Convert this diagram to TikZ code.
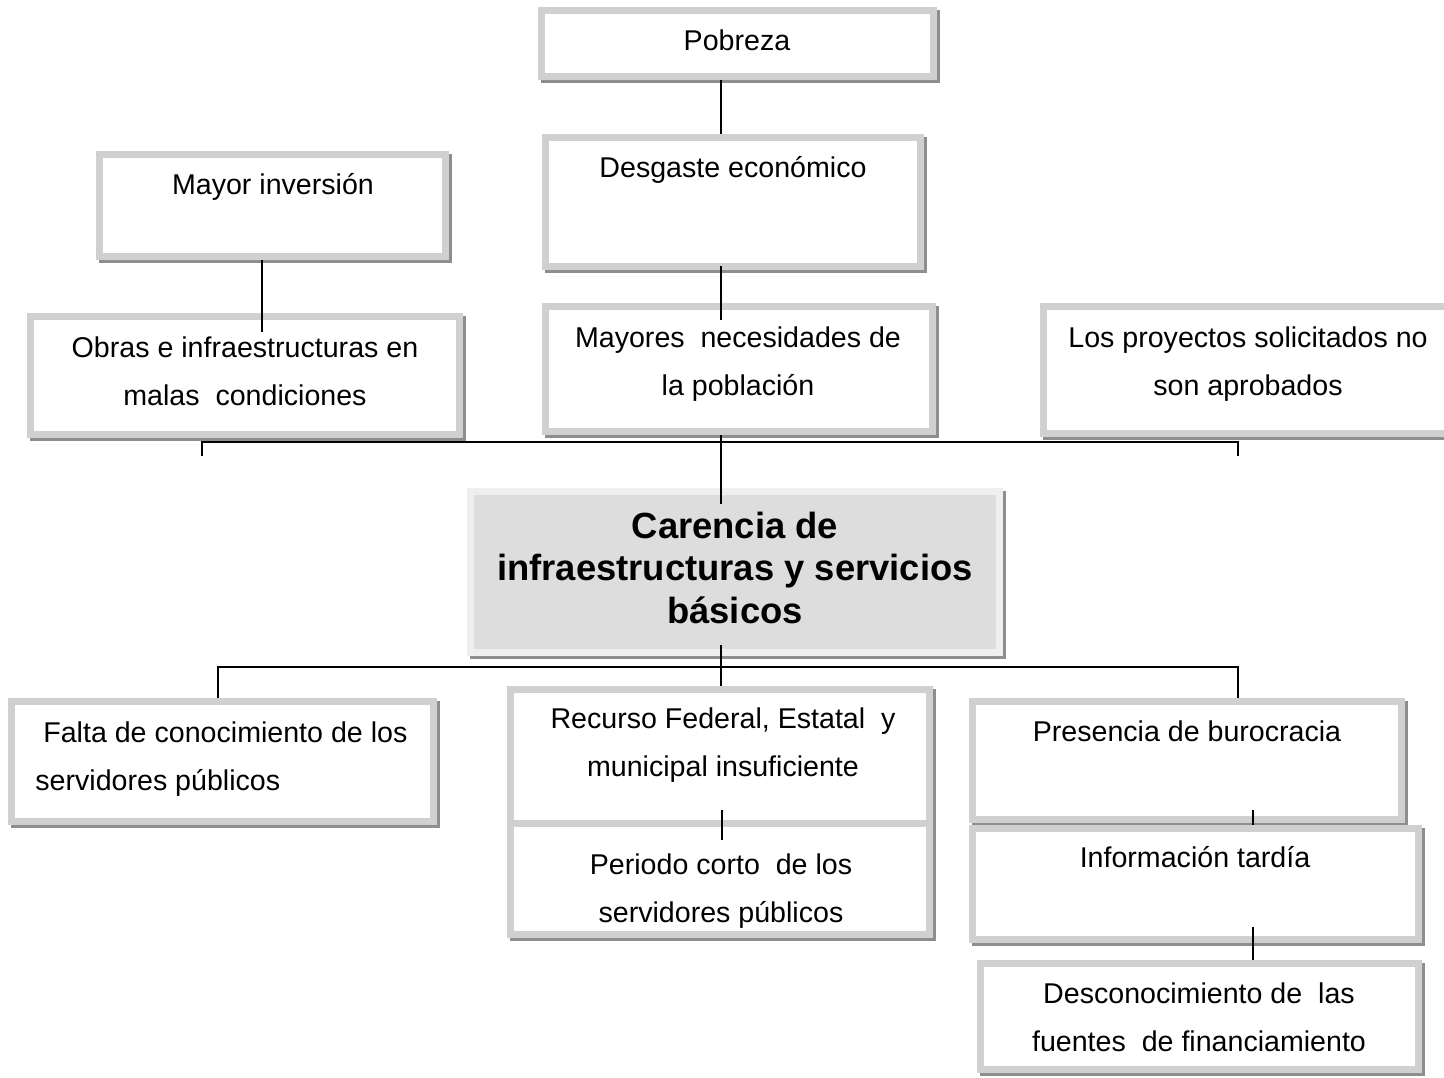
\documentclass[tikz,border=0pt]{standalone}
\usepackage{fontspec}
\setmainfont{Liberation Sans}
\usetikzlibrary{calc}
\definecolor{boxgray}{HTML}{D0D0D0}
\definecolor{shadowc}{HTML}{8E8E8E}
\definecolor{cfill}{HTML}{DDDDDD}
\definecolor{cborder}{HTML}{EFEFEF}
\begin{document}
\begin{tikzpicture}[x=0.5pt,y=-0.5pt,
  box/.style={rectangle, draw=boxgray, fill=white, line width=3.5pt, inner sep=0pt,
     preaction={draw=shadowc, fill=shadowc, line width=3.5pt, transform canvas={shift={(1.5pt,-1.5pt)}}}},
  txt/.style={font=\fontsize{14.3pt}{24.4pt}\selectfont, align=center, inner sep=0pt, anchor=base},
  conn/.style={line width=1pt, black}]
\useasboundingbox (0,0) rectangle (1444,1077);
\fill[white] (0,0) rectangle (1444,1077);

% boxes
\node[box, minimum width=196pt, minimum height=33pt] (pob) at (737.5,43.5) {};
\node[box, minimum width=187.5pt, minimum height=64.5pt] (des) at (733,202) {};
\node[box, minimum width=173pt, minimum height=51pt] (may) at (272.5,205.5) {};
\node[box, minimum width=214.5pt, minimum height=59pt] (obr) at (245,375.5) {};
\node[box, minimum width=193.5pt, minimum height=62.5pt] (mny) at (739,369) {};
\node[box, minimum width=204.5pt, minimum height=63.5pt] (pro) at (1248,370) {};
\node[box, draw=cborder, fill=cfill, minimum width=264.5pt, minimum height=80.5pt] (car) at (735,572) {};
\node[box, minimum width=211pt, minimum height=60pt] (fal) at (222.5,761.5) {};
\node[box, minimum width=209.5pt, minimum height=67pt] (rec) at (720,756.5) {};
\node[box, minimum width=209.5pt, minimum height=55.5pt] (per) at (720,879) {};
\node[box, minimum width=214.5pt, minimum height=59pt] (pre) at (1187,760.5) {};
\node[box, minimum width=223pt, minimum height=55.5pt] (inf) at (1195.5,884) {};
\node[box, minimum width=219pt, minimum height=53pt] (dsc) at (1199.5,1016.5) {};

% texts (base anchor = baseline of the last line)
\node[txt] (tpob) at (737,50) {Pobreza};
\node[txt] (tmay) at (273,194) {Mayor inversión};
\node[txt] (tdes) at (733,177) {Desgaste económico};
\node[txt] (tobr) at (245,405.8) {Obras e infraestructuras en\\malas~ condiciones};
\node[txt] (tmny) at (738,395.8) {Mayores~ necesidades de\\la población};
\node[txt] (tpro) at (1248,395.8) {Los proyectos solicitados no\\son aprobados};
\node[txt, font=\fontsize{18.2pt}{21.3pt}\selectfont\bfseries] (tcar) at (735,623.2) {Carencia de\\infraestructuras y servicios\\básicos};
\node[txt, align=left, anchor=base west] (tfal) at (35,790.8) {~Falta de conocimiento de los\\servidores públicos};
\node[txt] (trec) at (723,776.8) {Recurso Federal, Estatal~ y\\municipal insuficiente};
\node[txt] (tper) at (721,922.8) {Periodo corto~ de los\\servidores públicos};
\node[txt] (tpre) at (1187,741) {Presencia de burocracia};
\node[txt] (tinf) at (1195,867) {Información tardía};
\node[txt] (tdsc) at (1199,1051.8) {Desconocimiento de~ las\\fuentes~ de financiamiento};

% connectors
\coordinate (cx) at (721,0);
\coordinate (cx2) at (722,0);
\coordinate (mx) at (262,0);
\coordinate (rx) at (1253,0);
\coordinate (tl) at (202,456);
\coordinate (tr) at (1238,456);
\coordinate (bl) at (218,667);
\coordinate (br) at (1238,667);

\draw[conn] (pob.south -| cx) -- (des.north -| cx);
\draw[conn] ($(des.south -| cx)+(0,-4)$) -- ($(mny.north -| cx)+(0,17)$);
\draw[conn] (mny.south -| cx) -- ($(car.north -| cx)+(0,16)$);
\draw[conn] (tl) -- (tl |- 0,442) -- (tr |- 0,442) -- (tr);
\draw[conn] (may.south -| mx) -- ($(obr.north -| mx)+(0,19)$);
\draw[conn] (bl |- fal.north) -- (bl) -- (br) -- (br |- pre.north);
\draw[conn] ($(car.south -| cx)+(0,-11)$) -- (rec.north -| cx);
\draw[conn] ($(rec.south -| cx2)+(0,-17)$) -- ($(per.north -| cx2)+(0,20)$);
\draw[conn] ($(pre.south -| rx)+(0,-13)$) -- (inf.north -| rx);
\draw[conn] ($(inf.south -| rx)+(0,-16)$) -- (dsc.north -| rx);
\end{tikzpicture}
\end{document}
